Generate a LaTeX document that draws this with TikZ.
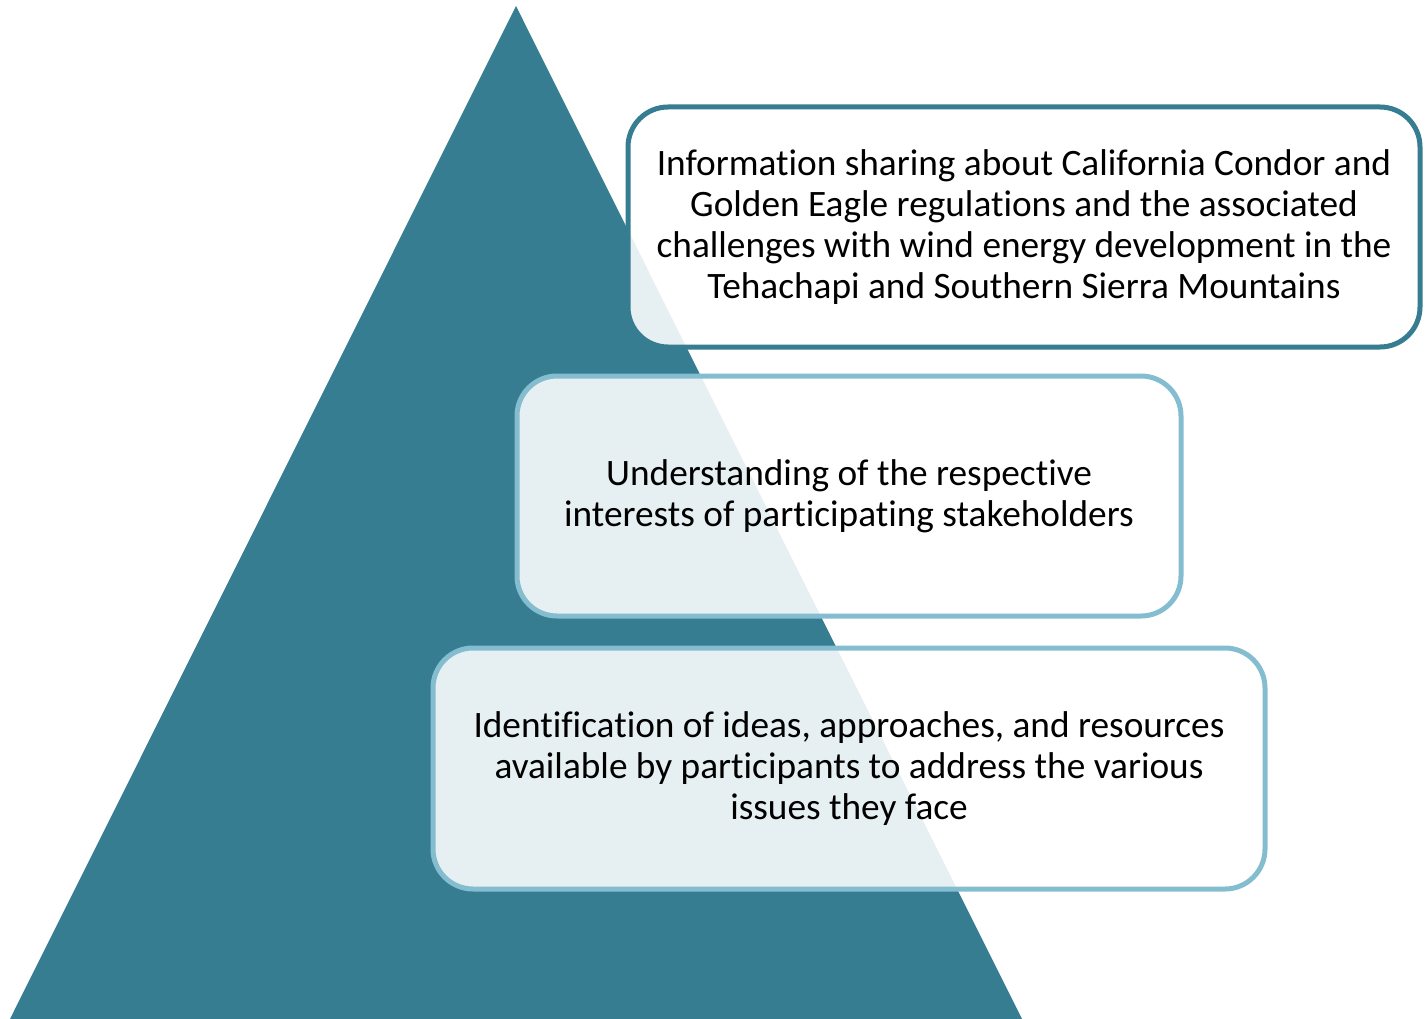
\documentclass[tikz,border=0pt]{standalone}
\usepackage{fontspec}
\setmainfont{Carlito}[Ligatures=NoCommon]
\definecolor{teal1}{RGB}{54,125,145}
\definecolor{lightb}{RGB}{133,189,208}
\begin{document}
\begin{tikzpicture}[x=1pt,y=-1pt,
  box/.style={draw, line width=5pt, rounded corners=40pt, fill=white,
    fill opacity=0.88, text opacity=1, align=center, inner sep=0pt,
    font=\fontsize{37.3}{41}\selectfont},
]
\useasboundingbox (0,0) rectangle (1425,1019);
\fill[teal1] (516,6) -- (10,1019) -- (1022,1019) -- cycle;
\node[box, draw=teal1, minimum width=792pt, minimum height=240pt] (top) at (1024,227)
  {Information sharing about California Condor and\\Golden Eagle regulations and the associated\\challenges with wind energy development in the\\Tehachapi and Southern Sierra Mountains};
\node[box, draw=lightb, minimum width=664pt, minimum height=240pt] (mid) at (849,496)
  {Understanding of the respective\\interests of participating stakeholders};
\node[box, draw=lightb, minimum width=832pt, minimum height=241pt] (bot) at (849,768.5)
  {Identification of ideas, approaches, and resources\\available by participants to address the various\\issues they face};
\end{tikzpicture}
\end{document}
